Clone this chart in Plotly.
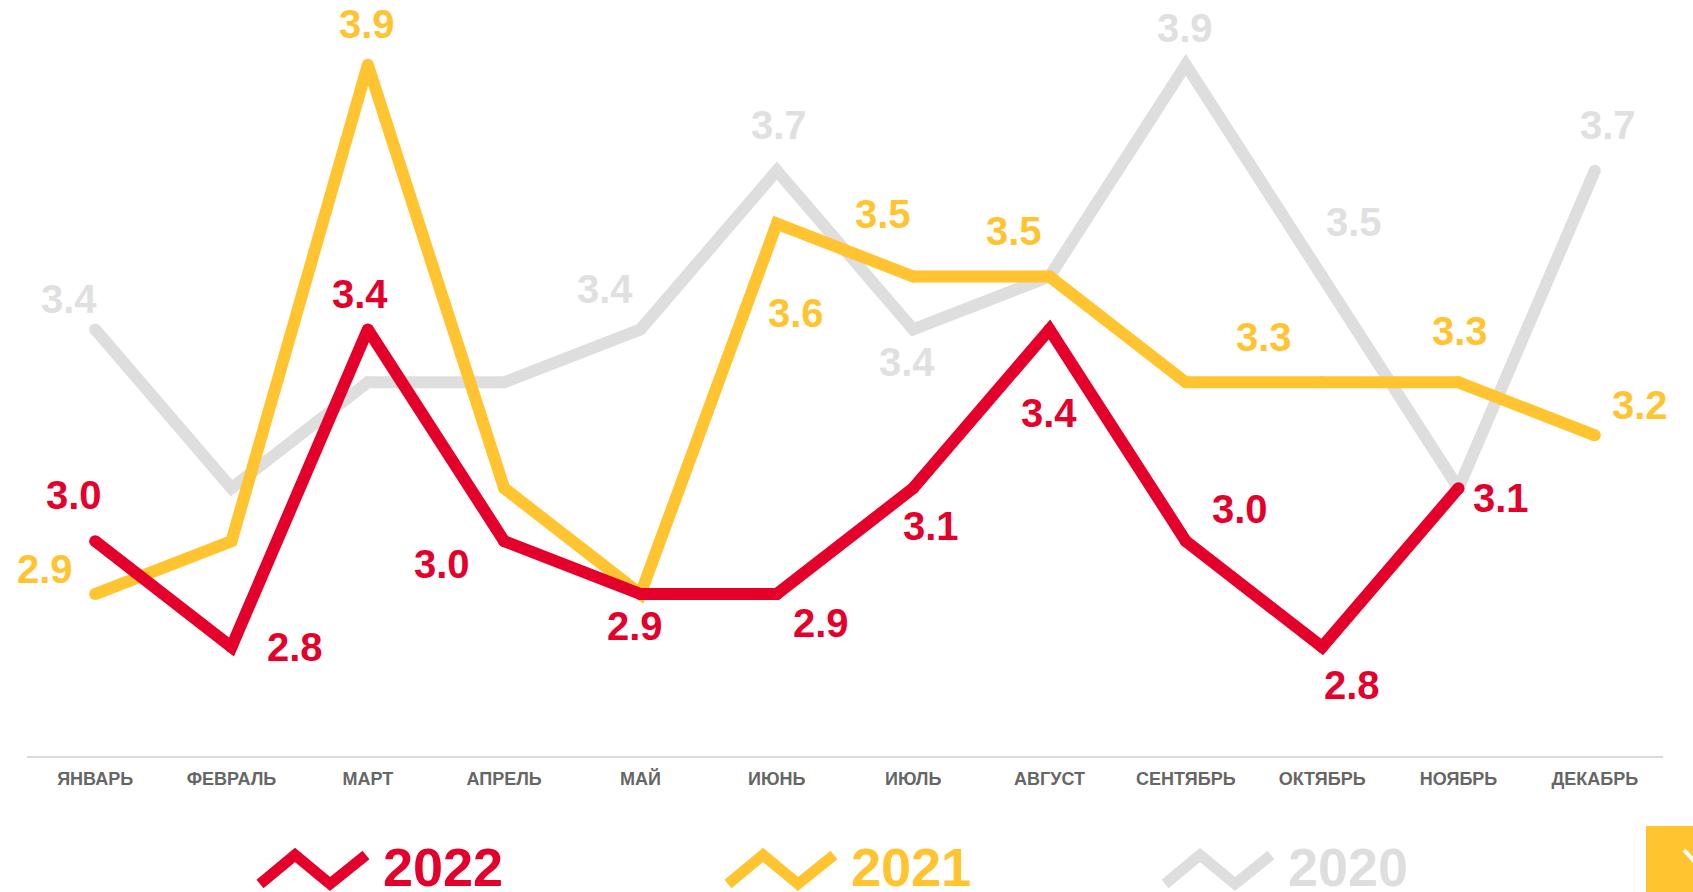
import plotly.graph_objects as go

months = ['ЯНВАРЬ', 'ФЕВРАЛЬ', 'МАРТ', 'АПРЕЛЬ', 'МАЙ', 'ИЮНЬ',
          'ИЮЛЬ', 'АВГУСТ', 'СЕНТЯБРЬ', 'ОКТЯБРЬ', 'НОЯБРЬ', 'ДЕКАБРЬ']
y2022 = [3.0, 2.8, 3.4, 3.0, 2.9, 2.9, 3.1, 3.4, 3.0, 2.8, 3.1, None]
y2021 = [2.9, 3.0, 3.9, 3.1, 2.9, 3.6, 3.5, 3.5, 3.3, 3.3, 3.3, 3.2]
y2020 = [3.4, 3.1, 3.3, 3.3, 3.4, 3.7, 3.4, 3.5, 3.9, 3.5, 3.1, 3.7]
years = ['2022', '2021', '2020']

RED = '#E4002B'
YELLOW = '#FFC430'
GREY = '#DEDEDE'
GREY_TXT = '#E0E0E0'
FONT = 'Liberation Sans, Arial, sans-serif'

W, H = 1693, 892
ML, MR, MT, MB = 27, 30, 0, 136
PW, PH = W - ML - MR, H - MT - MB

# label offsets in px (dx right, dy down) per month index
off2022 = {0: (-21, -46), 1: (63, 0), 2: (-8, -35), 3: (-62, 23), 4: (-6, 32), 5: (44, 29),
           6: (18, 38), 7: (-1, 84), 8: (54, -32), 9: (30, 38), 10: (42, 10)}
off2021 = {0: (-50, -25), 2: (-1, -41), 5: (19, 89), 6: (-30, -63), 7: (-36, -46),
           8: (78, -45), 10: (1, -51), 11: (45, -30)}
off2020 = {0: (-26, -30), 4: (-36, -40), 5: (2, -46), 6: (-6, 33), 8: (-1, -37),
           9: (32, -55), 11: (13, -46)}


def px(x, y):
    # window pixel -> paper coords
    return (x - ML) / PW, 1 - (y - MT) / PH


fig = go.Figure()
annotations = []
series = [(y2020, GREY, GREY_TXT, off2020), (y2021, YELLOW, YELLOW, off2021), (y2022, RED, RED, off2022)]
for vals, color, tcolor, offs in series:
    fig.add_trace(go.Scatter(x=months, y=vals, mode='lines+markers',
                             line=dict(color=color, width=12),
                             marker=dict(color=color, size=12),
                             hoverinfo='skip'))
    for i, (dx, dy) in offs.items():
        annotations.append(dict(x=months[i], y=vals[i], text=f'{vals[i]:.1f}', showarrow=False,
                                xshift=dx, yshift=-dy,
                                font=dict(family=FONT, size=40, color=tcolor, weight='bold')))

# legend: zigzag icons + year text
shapes = []
leg_colors = [RED, YELLOW, GREY]
leg_x = [258, 726, 1163]
for yr, c, x0 in zip(years, leg_colors, leg_x):
    pts = [(x0 + 2, 884), (x0 + 37, 855), (x0 + 72, 884), (x0 + 108, 855)]
    path = 'M ' + ' L '.join('%.5f,%.5f' % px(a, b) for a, b in pts)
    shapes.append(dict(type='path', path=path, xref='paper', yref='paper',
                       line=dict(color=c, width=11)))
    tx, ty = px(x0 + 185, 867)
    annotations.append(dict(x=tx, y=ty, xref='paper', yref='paper', text=yr, showarrow=False,
                            xanchor='center', yanchor='middle',
                            font=dict(family=FONT, size=54, color=c, weight='bold')))

# yellow corner button with a white chevron stroke
bx0, by0 = px(1646, 826)
bx1, by1 = px(1720, 920)
shapes.append(dict(type='rect', x0=bx0, y0=by0, x1=bx1, y1=by1, xref='paper', yref='paper',
                   fillcolor=YELLOW, line=dict(width=0)))
cx0, cy0 = px(1684, 850)
cx1, cy1 = px(1696, 863)
shapes.append(dict(type='line', x0=cx0, y0=cy0, x1=cx1, y1=cy1, xref='paper', yref='paper',
                   line=dict(color='white', width=4)))

fig.update_layout(
    width=W, height=H, margin=dict(l=ML, r=MR, t=MT, b=MB),
    paper_bgcolor='white', plot_bgcolor='white', showlegend=False,
    annotations=annotations, shapes=shapes,
    xaxis=dict(type='category', range=[-0.5, 11.5], showgrid=False, zeroline=False,
               showline=True, linecolor='#DADADA', linewidth=2, ticks='',
               ticklabelstandoff=5,
               tickfont=dict(family=FONT, size=18, color='#666666', weight='bold')),
    yaxis=dict(range=[2.594, 4.0225], visible=False, fixedrange=True),
)
fig.write_html("out.html", config={'displayModeBar': False},
               post_script="document.body.style.margin='0';document.body.style.overflow='hidden';")
